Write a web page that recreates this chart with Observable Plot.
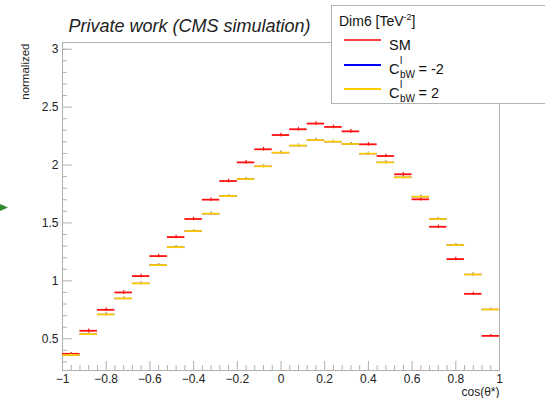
<!DOCTYPE html>
<html>
<head>
<meta charset="utf-8">
<script src="https://cdn.jsdelivr.net/npm/d3@7"></script>
<script src="https://cdn.jsdelivr.net/npm/@observablehq/plot@0.6"></script>
<style>
  body { margin: 0; background: #fff; }
  #wrap { position: relative; width: 545px; height: 398px; overflow: hidden; font-family: "Liberation Sans", Arial, sans-serif; }
  #legend { position: absolute; left: 331px; top: 5px; width: 240px; height: 97px; border: 1px solid #b4b4b4; background: #fff; color: #111; }
  #legend .t { position: absolute; left: 7px; top: 6px; font-size: 14px; }
  #legend .ln { position: absolute; left: 12px; width: 37px; height: 0; border-top: 2px solid; }
  #legend .lab { position: absolute; left: 57px; font-size: 14.5px; white-space: nowrap; }
  .cc { position: relative; display: inline-block; }
  .sp { position: absolute; left: 11px; top: -6px; font-size: 10px; }
  .sb { position: absolute; left: 11px; top: 8px; font-size: 10px; }
  #arrow { position: absolute; left: 0; top: 203px; }
</style>
</head>
<body>
<div id="wrap">
  <div id="chart"></div>
  <div id="legend">
    <div class="t">Dim6 [TeV<sup style="font-size:9px;">-2</sup>]</div>
    <div class="ln" style="top:33px;border-color:#ff4040;"></div>
    <div class="lab" style="top:31px;">SM</div>
    <div class="ln" style="top:58px;border-color:#0000ff;"></div>
    <div class="lab" style="top:55px;"><span class="cc">C<span class="sp">l</span><span class="sb">bW</span></span><span style="margin-left:19px;">= -2</span></div>
    <div class="ln" style="top:82px;border-color:#ffcc00;"></div>
    <div class="lab" style="top:79px;"><span class="cc">C<span class="sp">l</span><span class="sb">bW</span></span><span style="margin-left:19px;">= 2</span></div>
  </div>
  <svg id="arrow" width="10" height="10"><path d="M0,1 L8,4.5 L0,8 Z" fill="#2e8b2e"/></svg>
</div>
<script>
// Bin edges (cos theta*)
const binLo = [-1, -0.92, -0.84, -0.76, -0.68, -0.6, -0.52, -0.44, -0.36, -0.28, -0.2, -0.12, -0.04, 0.04, 0.12, 0.2, 0.28, 0.36, 0.44, 0.52, 0.6, 0.68, 0.76, 0.84, 0.92];
const binHi = [-0.92, -0.84, -0.76, -0.68, -0.6, -0.52, -0.44, -0.36, -0.28, -0.2, -0.12, -0.04, 0.04, 0.12, 0.2, 0.28, 0.36, 0.44, 0.52, 0.6, 0.68, 0.76, 0.84, 0.92, 1];
// Series values (normalized)
const smVals = [0.370, 0.569, 0.750, 0.900, 1.041, 1.214, 1.378, 1.534, 1.701, 1.862, 2.023, 2.136, 2.259, 2.309, 2.358, 2.329, 2.291, 2.179, 2.078, 1.920, 1.704, 1.467, 1.188, 0.888, 0.525];
const smErr  = [0.012, 0.015, 0.015, 0.015, 0.015, 0.015, 0.015, 0.015, 0.015, 0.016, 0.016, 0.016, 0.016, 0.016, 0.016, 0.016, 0.016, 0.016, 0.016, 0.016, 0.015, 0.015, 0.015, 0.013, 0.012];
const cbwM2Vals = [0.360, 0.540, 0.710, 0.848, 0.978, 1.136, 1.291, 1.430, 1.580, 1.732, 1.879, 1.989, 2.107, 2.168, 2.216, 2.202, 2.182, 2.098, 2.023, 1.894, 1.727, 1.534, 1.309, 1.055, 0.753];
const cbwM2Err  = [0.010, 0.012, 0.012, 0.012, 0.012, 0.012, 0.012, 0.012, 0.012, 0.012, 0.012, 0.012, 0.012, 0.012, 0.012, 0.012, 0.012, 0.012, 0.012, 0.012, 0.012, 0.012, 0.012, 0.012, 0.010];
const cbwP2Vals = [0.360, 0.540, 0.710, 0.848, 0.978, 1.136, 1.291, 1.430, 1.580, 1.732, 1.879, 1.989, 2.107, 2.168, 2.216, 2.202, 2.182, 2.098, 2.023, 1.894, 1.727, 1.534, 1.309, 1.055, 0.753];
const cbwP2Err  = [0.010, 0.012, 0.012, 0.012, 0.012, 0.012, 0.012, 0.012, 0.012, 0.012, 0.012, 0.012, 0.012, 0.012, 0.012, 0.012, 0.012, 0.012, 0.012, 0.012, 0.012, 0.012, 0.012, 0.012, 0.010];
const seriesNames = ["SM", "CbW=-2", "CbW=2"];
const seriesColors = ["#ff1010", "#0000ff", "#ffcc00"];
const seriesWidths = [1.8, 1.2, 1.8];
// Tick values
const xMajor = [-1, -0.8, -0.6, -0.4, -0.2, 0, 0.2, 0.4, 0.6, 0.8, 1];
const xMinor = [-0.96, -0.92, -0.88, -0.84, -0.76, -0.72, -0.68, -0.64, -0.56, -0.52, -0.48, -0.44, -0.36, -0.32, -0.28, -0.24, -0.16, -0.12, -0.08, -0.04, 0.04, 0.08, 0.12, 0.16, 0.24, 0.28, 0.32, 0.36, 0.44, 0.48, 0.52, 0.56, 0.64, 0.68, 0.72, 0.76, 0.84, 0.88, 0.92, 0.96];
const yMajor = [0.5, 1, 1.5, 2, 2.5, 3];
const yMinor = [0.3, 0.4, 0.6, 0.7, 0.8, 0.9, 1.1, 1.2, 1.3, 1.4, 1.6, 1.7, 1.8, 1.9, 2.1, 2.2, 2.3, 2.4, 2.6, 2.7, 2.8, 2.9, 3.0];

const allVals = [smVals, cbwM2Vals, cbwP2Vals];
const allErr = [smErr, cbwM2Err, cbwP2Err];
const rows = [];
seriesNames.forEach((s, k) => {
  binLo.forEach((lo, i) => {
    rows.push({series: s, k, lo, hi: binHi[i], c: (lo + binHi[i]) / 2, v: allVals[k][i], e: allErr[k][i]});
  });
});

const W = 545, H = 398;
const mL = 62, mR = 46, mT = 42, mB = 28;
const fw = W - mL - mR, fh = H - mT - mB;
const axisGray = "#b0b0b0";
const fmt = d => (d < 0 ? "\u2212" : "") + String(Math.abs(d));

const histMarks = seriesNames.flatMap((s, k) => {
  const sub = rows.filter(r => r.k === k);
  return [
    Plot.ruleY(sub, {y: "v", x1: "lo", x2: "hi", stroke: seriesColors[k], strokeWidth: seriesWidths[k]}),
    Plot.ruleX(sub, {x: "c", y1: d => d.v - d.e, y2: d => d.v + d.e, stroke: seriesColors[k], strokeWidth: 1.2})
  ];
});

const chart = Plot.plot({
  width: W, height: H,
  marginLeft: mL, marginRight: mR, marginTop: mT, marginBottom: mB,
  style: {fontFamily: "'Liberation Sans', Arial, sans-serif", fontSize: "12px", color: "#222", background: "#fff"},
  x: {domain: [-1, 1]},
  y: {domain: [0.226, 3.058]},
  marks: [
    Plot.frame({stroke: axisGray}),
    // y ticks (inward)
    Plot.ruleY(yMajor, {y: d => d, insetRight: fw - 10, stroke: axisGray}),
    Plot.ruleY(yMinor, {y: d => d, insetRight: fw - 5, stroke: axisGray}),
    // x ticks (inward)
    Plot.ruleX(xMajor, {x: d => d, insetTop: fh - 9, stroke: axisGray}),
    Plot.ruleX(xMinor, {x: d => d, insetTop: fh - 5, stroke: axisGray}),
    Plot.axisX({ticks: xMajor, tickSize: 0, tickPadding: 4, label: null, tickFormat: fmt}),
    Plot.axisY({ticks: yMajor, tickSize: 0, tickPadding: 4, label: null, tickFormat: fmt}),
    ...histMarks,
    // texts
    Plot.text(["Private work (CMS simulation)"], {frameAnchor: "top-left", dx: 6, dy: -16, textAnchor: "start", lineAnchor: "middle", fontSize: 18, fontStyle: "italic", fill: "#222"}),
    Plot.text(["normalized"], {frameAnchor: "top-left", dx: -37, dy: 1, rotate: -90, textAnchor: "end", lineAnchor: "middle", fontSize: 11.5, fill: "#222"}),
    Plot.text(["cos(θ*)"], {frameAnchor: "bottom-right", dy: 22, textAnchor: "end", lineAnchor: "middle", fontSize: 12, fill: "#222"})
  ]
});
document.getElementById("chart").appendChild(chart);
</script>
</body>
</html>
